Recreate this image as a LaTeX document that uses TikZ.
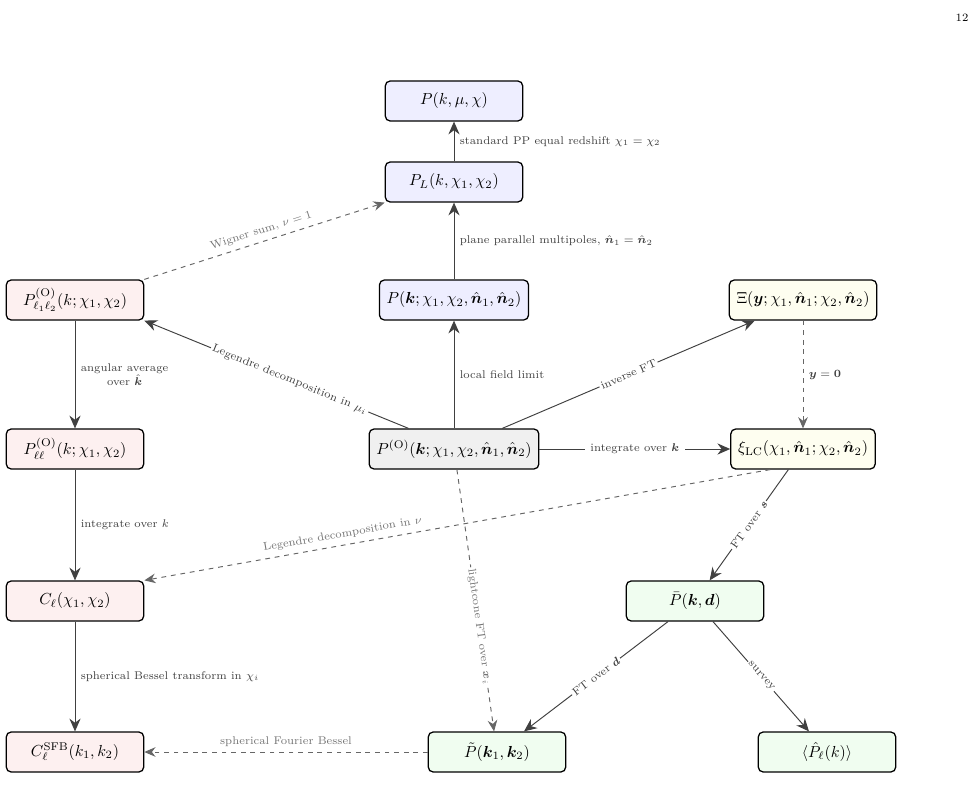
\documentclass[tikz,border=0pt]{standalone}
\usepackage{amsmath}
\usepackage{amssymb}
\usepackage{bm}
\usetikzlibrary{arrows.meta}

\definecolor{boxblue}{RGB}{238,238,255}
\definecolor{boxpink}{RGB}{253,240,240}
\definecolor{boxyellow}{RGB}{254,254,240}
\definecolor{boxgray}{RGB}{240,240,240}
\definecolor{boxgreen}{RGB}{240,253,240}

\tikzset{
  box/.style={draw=black, thick, rounded corners=3pt, minimum width=86pt, minimum height=25pt, inner sep=4.5pt},
  main/.style={-{Stealth[length=8pt,width=7pt]}, draw=black!75, semithick},
  alt/.style={-{Stealth[length=7pt,width=6pt]}, draw=black!60, dashed, semithick},
  lab/.style={font=\scriptsize, text=black!75},
  alab/.style={font=\scriptsize, text=black!55},
}

\begin{document}
\begin{tikzpicture}[x=0.626pt, y=-0.626pt]
        \useasboundingbox (0,0) rectangle (978,799);
        \node[font=\scriptsize] (page) at (962,18) {12};

        % upper column
        \node[box, fill=boxblue] (Pmu) at (454,101) {$P(k,\mu,\chi)$};
        \node[box, fill=boxblue] (PL) at (454,182) {$P_L(k,\chi_1,\chi_2)$};
        \node[box, fill=boxblue] (Pn) at (454,300) {$P(\bm{k};\chi_1,\chi_2,\hat{\bm{n}}_1,\hat{\bm{n}}_2)$};
        \node[box, fill=boxgray] (PO) at (454,449) {$P^{(\mathrm{O})}(\bm{k};\chi_1,\chi_2,\hat{\bm{n}}_1,\hat{\bm{n}}_2)$};

        % left column
        \node[box, fill=boxpink] (Pl1l2) at (75,300) {$P^{(\mathrm{O})}_{\ell_1\ell_2}(k;\chi_1,\chi_2)$};
        \node[box, fill=boxpink] (Pll) at (75,449) {$P^{(\mathrm{O})}_{\ell\ell}(k;\chi_1,\chi_2)$};
        \node[box, fill=boxpink] (Cl) at (75,601) {$C_\ell(\chi_1,\chi_2)$};
        \node[box, fill=boxpink] (CSFB) at (75,752) {$C^{\mathrm{SFB}}_\ell(k_1,k_2)$};

        % right column
        \node[box, fill=boxyellow] (Xi) at (803,300) {$\Xi(\bm{y};\chi_1,\hat{\bm{n}}_1;\chi_2,\hat{\bm{n}}_2)$};
        \node[box, fill=boxyellow] (xiLC) at (803,449) {$\xi_{\mathrm{LC}}(\chi_1,\hat{\bm{n}}_1;\chi_2,\hat{\bm{n}}_2)$};
        \node[box, fill=boxgreen] (Pbar) at (695,601) {$\bar{P}(\bm{k},\bm{d})$};
        \node[box, fill=boxgreen] (Ptil) at (497,752) {$\tilde{P}(\bm{k}_1,\bm{k}_2)$};
        \node[box, fill=boxgreen] (Pest) at (827,752) {$\langle\hat{P}_\ell(k)\rangle$};

        % solid connectors
        \draw[main] (PL) -- node[lab, right] {standard PP equal redshift $\chi_1=\chi_2$} (Pmu);
        \draw[main] (Pn) -- node[lab, right] {plane parallel multipoles, $\hat{\bm{n}}_1=\hat{\bm{n}}_2$} (PL);
        \draw[main] (PO) -- node[lab, right] {local field limit} (Pn);
        \draw[main] (PO) -- node[lab, sloped, fill=white, inner sep=1pt] {inverse FT} (Xi);
        \draw[main] (PO) -- node[lab, fill=white] {integrate over $\bm{k}$} (xiLC);
        \draw[main] (PO.north west) ++(40,0) -- node[lab, sloped, fill=white, inner sep=1pt, pos=0.45] {Legendre decomposition in $\mu_i$} (Pl1l2.south east);
        \draw[main] (Pl1l2) -- node[lab, right, align=center] {angular average\\over $\hat{\bm{k}}$} (Pll);
        \draw[main] (Pll) -- node[lab, right] {integrate over $k$} (Cl);
        \draw[main] (Cl) -- node[lab, right] {spherical Bessel transform in $\chi_i$} (CSFB);
        \draw[main] (xiLC) -- node[lab, sloped, fill=white, inner sep=1pt] {FT over $\bm{s}$} (Pbar);
        \draw[main] (Pbar) -- node[lab, sloped, fill=white, inner sep=1pt] {FT over $\bm{d}$} (Ptil);
        \draw[main] (Pbar) -- node[lab, sloped, fill=white, inner sep=1pt] {survey} (Pest);

        % dashed connectors
        \draw[alt] (Pl1l2.north east) -- node[alab, sloped, above] {Wigner sum, $\nu=1$} (PL.south west);
        \draw[alt] (Xi) -- node[lab, right] {$\bm{y}=\bm{0}$} (xiLC);
        \draw[alt] (xiLC.south west) ++(40,0) -- node[alab, sloped, above, pos=0.68] {Legendre decomposition in $\nu$} (Cl.north east);
        \draw[alt] (PO) -- node[alab, sloped, fill=white, inner sep=1pt, pos=0.6] {lightcone FT over $\bm{x}_i$} (Ptil);
        \draw[alt] (Ptil) -- node[alab, above] {spherical Fourier Bessel} (CSFB);
    \end{tikzpicture}
\end{document}
